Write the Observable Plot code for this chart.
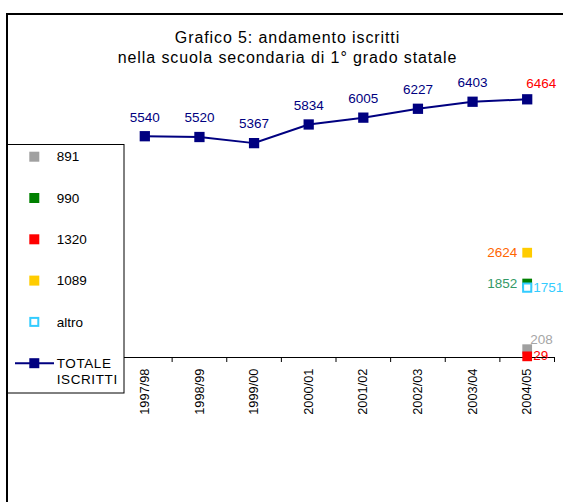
<!DOCTYPE html>
<html>
<head>
<meta charset="utf-8">
<script src="https://cdn.jsdelivr.net/npm/d3@7"></script>
<script src="https://cdn.jsdelivr.net/npm/@observablehq/plot@0.6"></script>
<style>
  body { margin: 0; background: #fff; }
  #wrap { position: relative; width: 563px; height: 502px; overflow: hidden; background: #fff;
          font-family: "Liberation Sans", Arial, sans-serif; }
  #frameTop { position: absolute; left: 6px; top: 13px; right: 0; height: 2px; background: #000; }
  #frameLeft { position: absolute; left: 6px; top: 13px; bottom: 0; width: 2px; background: #000; }
  #title { position: absolute; left: 0; width: 575px; top: 28px; text-align: center; font-size: 16px;
           line-height: 19.5px; letter-spacing: 0.9px; color: #000; }
  #chart { position: absolute; left: 0; top: 0; }
  #legend { position: absolute; left: 7px; top: 144px; }
</style>
</head>
<body>
<div id="wrap">
  <div id="frameTop"></div>
  <div id="frameLeft"></div>
  <div id="chart"></div>
  <div id="title">Grafico 5: andamento iscritti<br>nella scuola secondaria di 1° grado statale</div>
  <div id="legend"></div>
</div>
<script>
// ---- data ----
const years = ["1997/98", "1998/99", "1999/00", "2000/01", "2001/02", "2002/03", "2003/04", "2004/05"];
const totale = [5540, 5520, 5367, 5834, 6005, 6227, 6403, 6464];
const categories = ["891", "990", "1320", "1089", "altro"];
const lastYear = "2004/05";
const values2005 = [208, 1852, 29, 2624, 1751];
const seriesColors = ["#a0a0a0", "#008000", "#ff0000", "#ffcc00", "#33ccff"];
const labelColors = ["#a6a6a6", "#339966", "#ff0000", "#ff6600", "#33ccff"];
const hollow = [false, false, false, false, true];
const navy = "#000080";
const totaleLabel = ["TOTALE", "ISCRITTI"];

const font = "'Liberation Sans', Arial, sans-serif";
const xi = (d, i) => i + 0.5;

const series = categories.map((c, i) => ({
  cat: c, year: lastYear, value: values2005[i], color: seriesColors[i], label: labelColors[i], hollow: hollow[i]
}));
const sx = d => years.indexOf(d.year) + 0.5;
const leftLabeled = new Set(["990", "1089"]);

const n = totale.length;
const fs = 13.5;
const chart = Plot.plot({
  width: 563,
  height: 502,
  marginLeft: 117,
  marginRight: 9,
  marginTop: 77.4,
  marginBottom: 145,
  style: { fontFamily: font, background: "transparent" },
  x: { type: "linear", domain: [0, years.length] },
  y: { domain: [0, 7000], axis: null },
  marks: [
    Plot.ruleY([0], { stroke: "#000", strokeWidth: 1 }),
    Plot.axisX({ ticks: d3.range(0, years.length + 1), tickSize: 5, tickFormat: () => "", stroke: "#000" }),
    Plot.axisX({
      ticks: years.map(xi), tickFormat: v => years[Math.floor(v)], tickRotate: -90, tickSize: 0,
      tickPadding: 11, fontSize: 12.8, fill: "#000"
    }),
    Plot.line(totale, { x: xi, y: d => d, stroke: navy, strokeWidth: 2 }),
    Plot.dot(totale, { x: xi, y: d => d, symbol: "square", r: 5.8, fill: navy, stroke: "none" }),
    Plot.text(totale, {
      x: xi, y: d => d, text: d => String(d), filter: (d, i) => i < n - 1,
      dy: -19, fill: navy, fontSize: fs, letterSpacing: 0.3
    }),
    Plot.text(totale, {
      x: xi, y: d => d, text: d => String(d), filter: (d, i) => i === n - 1,
      dy: -16, dx: 14, fill: "#ff0000", fontSize: fs, letterSpacing: 0.3
    }),
    Plot.dot(series, {
      x: sx, y: "value", symbol: "square", filter: d => !d.hollow,
      r: 5.5, fill: d => d.color, stroke: "none"
    }),
    Plot.dot(series, {
      x: sx, y: "value", symbol: "square", filter: d => d.hollow,
      r: 4.6, fill: "#fff", stroke: d => d.color, strokeWidth: 2
    }),
    Plot.text(series, {
      x: sx, y: "value", text: d => String(d.value), filter: d => leftLabeled.has(d.cat),
      textAnchor: "end", dx: -10, fill: d => d.label, fontSize: fs, letterSpacing: 0.3
    }),
    Plot.text(series, {
      x: sx, y: "value", text: d => String(d.value), filter: d => d.cat === "altro",
      textAnchor: "start", dx: 6, fill: d => d.label, fontSize: fs, letterSpacing: 0.3
    }),
    Plot.text(series, {
      x: sx, y: "value", text: d => String(d.value), filter: d => d.cat === "891",
      textAnchor: "start", dx: 3, dy: -9.5, fill: d => d.label, fontSize: fs, letterSpacing: 0.3
    }),
    Plot.text(series, {
      x: sx, y: "value", text: d => String(d.value), filter: d => d.cat === "1320",
      textAnchor: "start", dx: 6, dy: -1, fill: d => d.label, fontSize: fs, letterSpacing: 0.3
    })
  ]
});
document.getElementById("chart").appendChild(chart);

// ---- legend ----
const lw = 118, lh = 250;
const lg = d3.create("svg").attr("width", lw).attr("height", lh).style("display", "block")
  .style("font-family", font);
lg.append("rect").attr("x", 0.5).attr("y", 0.5).attr("width", lw - 1.5).attr("height", lh - 1.5)
  .attr("fill", "#fff").attr("stroke", "#000").attr("stroke-width", 1);
const rowY = i => 12.7 + i * 41.3;
series.forEach((s, i) => {
  const y = rowY(i);
  if (s.hollow) {
    lg.append("rect").attr("x", 27.3 - 4).attr("y", y - 4).attr("width", 8).attr("height", 8)
      .attr("fill", "#fff").attr("stroke", s.color).attr("stroke-width", 2);
  } else {
    lg.append("rect").attr("x", 27.3 - 5).attr("y", y - 5).attr("width", 10).attr("height", 10)
      .attr("fill", s.color);
  }
  lg.append("text").attr("x", 49.7).attr("y", y).attr("dy", "0.35em").attr("font-size", 13.5)
    .attr("fill", "#000").text(s.cat);
});
{
  const y = rowY(series.length);
  lg.append("line").attr("x1", 8).attr("x2", 47).attr("y1", y).attr("y2", y)
    .attr("stroke", navy).attr("stroke-width", 2);
  lg.append("rect").attr("x", 27.3 - 5).attr("y", y - 5).attr("width", 10).attr("height", 10).attr("fill", navy);
  totaleLabel.forEach((t, j) => {
    lg.append("text").attr("x", 49.7).attr("y", y + j * 16.5).attr("dy", "0.35em").attr("font-size", 13.5)
      .attr("letter-spacing", 0.6).attr("fill", "#000").text(t);
  });
}
document.getElementById("legend").appendChild(lg.node());
</script>
</body>
</html>
